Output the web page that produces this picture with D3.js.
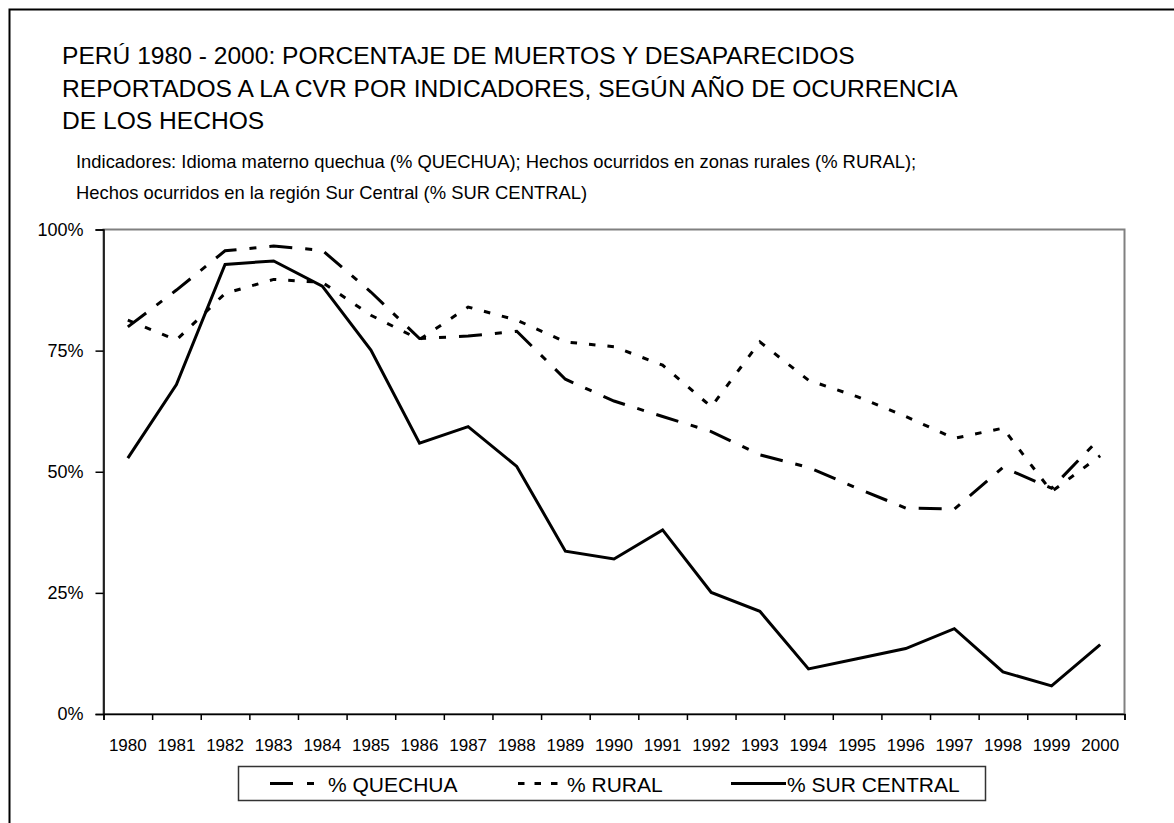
<!DOCTYPE html>
<html>
<head>
<meta charset="utf-8">
<script src="https://cdn.jsdelivr.net/npm/d3@7"></script>
<style>
  body { margin: 0; background: #fff; }
  text { font-family: 'Liberation Sans', Arial, sans-serif; fill: #000; }
</style>
</head>
<body>
<svg id="canvas"></svg>
<script>
var width = 1174,
  height = 823,
  plot = {left: 103.5, right: 1124.5, top: 229.5, bottom: 714};

var years = ['1980', '1981', '1982', '1983', '1984', '1985', '1986', '1987', '1988', '1989', '1990',
  '1991', '1992', '1993', '1994', '1995', '1996', '1997', '1998', '1999', '2000'];

// porcentajes
var quechua = [79.9, 87.5, 95.6, 96.6, 95.7, 87.1, 77.5, 78.0, 79.0, 69.1, 64.6,
  61.4, 58.3, 53.5, 50.9, 46.6, 42.5, 42.3, 50.9, 46.6, 57.0];
var rural = [81.3, 77.2, 86.8, 89.7, 89.1, 82.3, 77.3, 84.0, 81.3, 76.8, 75.8,
  72.0, 63.4, 76.8, 68.9, 65.5, 61.4, 56.9, 59.0, 45.9, 53.3];
var surCentral = [52.8, 68.0, 92.8, 93.5, 88.3, 75.1, 55.9, 59.3, 51.1, 33.6, 32.0,
  38.0, 25.1, 21.2, 9.3, 11.4, 13.5, 17.6, 8.7, 5.8, 14.3];

var yTicks = [0, 25, 50, 75, 100];

var titleLines = [
  'PERÚ 1980 - 2000: PORCENTAJE DE MUERTOS Y DESAPARECIDOS',
  'REPORTADOS A LA CVR POR INDICADORES, SEGÚN AÑO DE OCURRENCIA',
  'DE LOS HECHOS'
];
var subtitleLines = [
  'Indicadores: Idioma materno quechua (% QUECHUA); Hechos ocurridos en zonas rurales (% RURAL);',
  'Hechos ocurridos en la región Sur Central (% SUR CENTRAL)'
];

var seriesNames = ['% QUECHUA', '% RURAL', '% SUR CENTRAL'];


function draw() {
  var canvas, x, xEdge, y, line, series, legend;

  canvas = d3.select('#canvas')
    .attr('width', width)
    .attr('height', height);

  // OUTER FRAME (only top and left are inside the picture)
  canvas.append('rect')
    .attr('x', 9.5)
    .attr('y', 9.5)
    .attr('width', width + 20)
    .attr('height', height + 20)
    .style('fill', 'none')
    .style('stroke', '#000')
    .style('stroke-width', 2);

  // TITLE
  canvas.selectAll('text.title')
    .data(titleLines)
    .enter()
    .append('text')
    .attr('class', 'title')
    .attr('x', 62)
    .attr('y', function(d, i) { return 64 + i * 32.5; })
    .style('font-size', '24.6px')
    .text(function(d) { return d; });

  canvas.selectAll('text.subtitle')
    .data(subtitleLines)
    .enter()
    .append('text')
    .attr('class', 'subtitle')
    .attr('x', 76)
    .attr('y', function(d, i) { return 168 + i * 31; })
    .style('font-size', '18.4px')
    .text(function(d) { return d; });

  // SCALES
  x = d3.scaleBand()
    .domain(years)
    .range([plot.left, plot.right]);

  xEdge = d3.scaleLinear()
    .domain([0, years.length])
    .range([plot.left, plot.right]);

  y = d3.scaleLinear()
    .domain([0, 100])
    .range([plot.bottom, plot.top]);

  // PLOT AREA
  canvas.append('rect')
    .attr('x', plot.left)
    .attr('y', plot.top)
    .attr('width', plot.right - plot.left)
    .attr('height', plot.bottom - plot.top)
    .style('fill', '#fff')
    .style('stroke', '#808080')
    .style('stroke-width', 2);

  // Y AXIS
  var yAxis = canvas.append('g')
    .attr('transform', 'translate(' + plot.left + ',0)')
    .call(d3.axisLeft(y)
      .tickValues(yTicks)
      .tickSize(8)
      .tickPadding(12)
      .tickFormat(function(d) { return d + '%'; }));

  yAxis.selectAll('text')
    .style('font-size', '18px')
    .style('font-family', "'Liberation Sans', Arial, sans-serif")
    .attr('fill', '#000');

  // X AXIS
  var xTicks = canvas.append('g')
    .attr('transform', 'translate(0,' + plot.bottom + ')')
    .call(d3.axisBottom(xEdge)
      .tickValues(d3.range(years.length + 1))
      .tickSize(6)
      .tickFormat(''));

  var xLabels = canvas.append('g')
    .attr('transform', 'translate(0,' + plot.bottom + ')')
    .call(d3.axisBottom(x).tickSize(0).tickPadding(25));

  xLabels.select('.domain').remove();
  xLabels.selectAll('text')
    .style('font-size', '17px')
    .style('font-family', "'Liberation Sans', Arial, sans-serif")
    .attr('fill', '#000');

  canvas.selectAll('.domain, .tick line')
    .style('stroke', '#000')
    .style('stroke-width', 1.5);

  // LINES
  series = [
    {name: seriesNames[0], values: quechua, dash: '23,13,7,13'},
    {name: seriesNames[1], values: rural, dash: '6.5,12'},
    {name: seriesNames[2], values: surCentral, dash: null}
  ];

  line = d3.line()
    .x(function(d, i) { return x(years[i]) + x.bandwidth() / 2; })
    .y(function(d) { return y(d); });

  canvas.selectAll('path.serie')
    .data(series)
    .enter()
    .append('path')
    .attr('class', 'serie')
    .attr('d', function(d) { return line(d.values); })
    .style('fill', 'none')
    .style('stroke', '#000')
    .style('stroke-width', 3)
    .style('stroke-linejoin', 'miter')
    .style('stroke-dasharray', function(d) { return d.dash; });

  // LEGEND
  legend = canvas.append('g');

  legend.append('rect')
    .attr('x', 238.5)
    .attr('y', 766.5)
    .attr('width', 747)
    .attr('height', 34)
    .style('fill', '#fff')
    .style('stroke', '#333')
    .style('stroke-width', 1.5);

  var item = legend.selectAll('g.item')
    .data(series)
    .enter()
    .append('g')
    .attr('class', 'item')
    .attr('transform', function(d, i) {
      return 'translate(' + [270, 518, 731][i] + ',783.5)';
    });

  item.append('line')
    .attr('x1', 0)
    .attr('x2', function(d, i) { return [44, 41, 55][i]; })
    .style('stroke', '#000')
    .style('stroke-width', 3)
    .style('stroke-dasharray', function(d, i) { return ['23,14,7', '6.5,10', null][i]; });

  item.append('text')
    .attr('x', function(d, i) { return [58, 49, 56][i]; })
    .attr('y', 8)
    .style('font-size', '21px')
    .text(function(d) { return d.name; });
}

window.onload = draw;
</script>
</body>
</html>
